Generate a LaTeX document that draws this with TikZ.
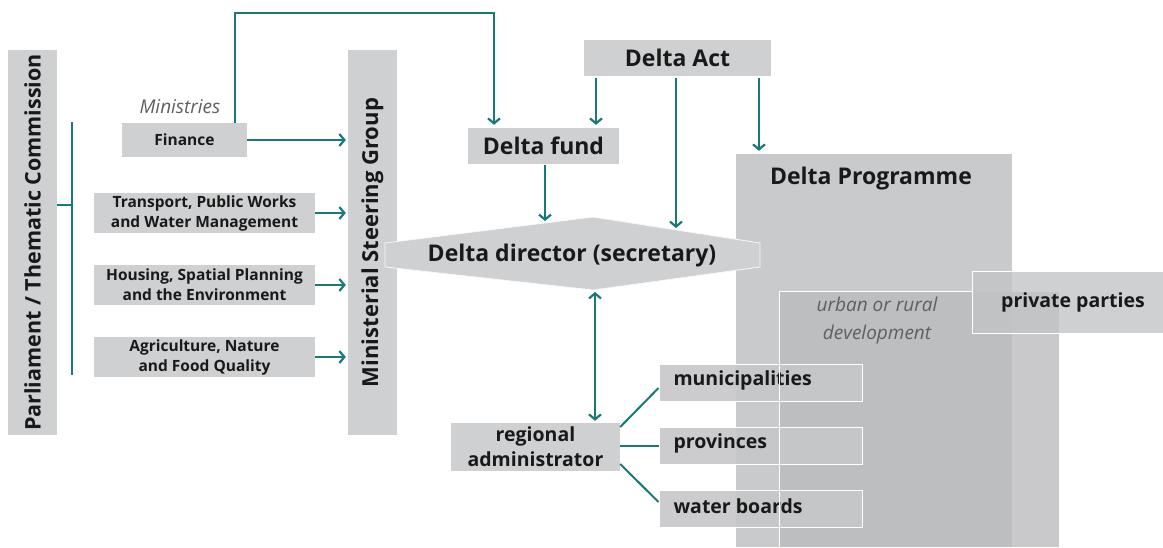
\documentclass[tikz,border=0pt]{standalone}
\usepackage{fontspec}
\setmainfont{Open Sans}
\usetikzlibrary{arrows.meta}
\definecolor{tealc}{RGB}{24,122,120}
\definecolor{boxg}{RGB}{207,208,210}
\definecolor{progg}{RGB}{201,202,204}
\definecolor{urbg}{RGB}{187,188,190}
\definecolor{privg}{RGB}{195,196,198}
\definecolor{smallg}{RGB}{198,199,201}
\definecolor{txtg}{RGB}{95,95,97}
\begin{document}
\begin{tikzpicture}[x=1pt,y=-1pt,
  box/.style={fill=boxg, inner sep=0pt, font=\bfseries\fontsize{15.5}{20}\selectfont, align=center, text=black!90},
  bigtxt/.style={font=\bfseries\fontsize{23}{27}\selectfont, text=black!90},
  midtxt/.style={font=\bfseries\fontsize{19.5}{25}\selectfont, text=black!90},
  lighttxt/.style={font=\itshape\fontsize{19}{28}\selectfont, text=txtg, align=center},
  sbox/.style={fill=smallg, fill opacity=0.9, draw=white, line width=1pt, inner sep=0pt},
  conn/.style={draw=tealc, line width=2pt},
  arr/.style={conn, -{Straight Barb[length=5pt,width=12pt,line width=2.2pt]}},
  darr/.style={conn, {Straight Barb[length=5pt,width=12pt,line width=2.2pt]}-{Straight Barb[length=5pt,width=12pt,line width=2.2pt]}}]
\useasboundingbox (0,0) rectangle (1163,547);

% right-hand layered areas
\node[fill=progg, inner sep=0pt, minimum width=276pt, minimum height=393pt] (prog) at (874,350.5) {};
\node[bigtxt] at (871,179) {Delta Programme};
\node[fill=urbg, fill opacity=0.8, inner sep=0pt, minimum width=279pt, minimum height=255pt] (urb) at (919.5,419.5) {};
\node[lighttxt] at (877,321) {urban or rural\\development};
\node[fill=privg, fill opacity=0.8, draw=white, line width=1pt, inner sep=0pt, minimum width=200pt, minimum height=62pt] (priv) at (1072,302) {};
\node[midtxt] at (1073,302) {private parties};

% left column
\node[box, minimum width=49pt, minimum height=385pt] (parl) at (32.5,242.5) {};
\node[rotate=90, font=\bfseries\fontsize{21.5}{26}\selectfont, text=black!90] at (parl.center) {Parliament / Thematic Commission};
\node[box, minimum width=49pt, minimum height=385pt] (msg) at (372.5,242.5) {};
\node[rotate=90, font=\bfseries\fontsize{22}{26}\selectfont, text=black!90] at (msg.center) {Ministerial Steering Group};

\node[lighttxt] (minis) at (180,107) {Ministries};
\node[box, minimum width=125pt, minimum height=34pt] (fin) at (184.5,140) {Finance};
\node[box, minimum width=221pt, minimum height=40pt] (trans) at (204.5,213) {Transport, Public Works\\and Water Management};
\node[box, minimum width=221pt, minimum height=40pt] (hous) at (204.5,285) {Housing, Spatial Planning\\and the Environment};
\node[box, minimum width=221pt, minimum height=40pt] (agri) at (204.5,357) {Agriculture, Nature\\and Food Quality};

% centre
\node[box, minimum width=187pt, minimum height=36pt, bigtxt] (act) at (677.5,58) {\raisebox{-2pt}{Delta Act}};
\node[box, minimum width=151pt, minimum height=36pt, bigtxt] (fund) at (543.5,146) {Delta fund};
\coordinate (hL1) at (385,243);
\coordinate (hT) at (593,217);
\coordinate (hR1) at (760,243);
\coordinate (hR2) at (760,267);
\coordinate (hB) at (593,290);
\coordinate (hL2) at (385,267);
\filldraw[fill=boxg, draw=white!85!boxg, line width=0.8pt] (hL1) -- (hT) -- (hR1) -- (hR2) -- (hB) -- (hL2) -- cycle;
\node[bigtxt] (dir) at (572,256) {Delta director (secretary)};

\node[box, minimum width=169pt, minimum height=48pt, font=\bfseries\fontsize{19.5}{25}\selectfont] (reg) at (535.5,447) {regional\\administrator};

\node[sbox, minimum width=203pt, minimum height=37pt] (mun) at (760.5,382.5) {};
\node[sbox, minimum width=203pt, minimum height=37pt] (prov) at (760.5,445.5) {};
\node[sbox, minimum width=203pt, minimum height=37pt] (wat) at (760.5,509) {};
\node[midtxt, anchor=west] at (670,380) {municipalities};
\node[midtxt, anchor=west] at (670,443) {provinces};
\node[midtxt, anchor=west] at (670,506) {water boards};
% urban border on top
\draw[white, line width=1pt] (urb.south west) -- (urb.north west) -- (priv.west |- urb.north);

% connectors
\coordinate (brT) at (72,122);
\coordinate (brB) at (72,375);
\coordinate (brM) at (72,205);
\draw[conn] (brT) -- (brB);
\draw[conn] (parl.east |- brM) -- (brM);

\draw[arr, shorten >=2pt] (fin.east) -- (msg.west |- fin.east);
\draw[arr, shorten >=2pt] (trans.east) -- (msg.west |- trans.east);
\draw[arr, shorten >=2pt] (hous.east) -- (msg.west |- hous.east);
\draw[arr, shorten >=2pt] (agri.east) -- (msg.west |- agri.east);

\coordinate (finT) at (235,123);
\coordinate (topc) at (494,13);
\draw[arr, shorten >=3pt] (finT) |- (topc) -- (topc |- fund.north);

\coordinate (a1) at (596,76);
\coordinate (a2) at (676,76);
\coordinate (a3) at (759,76);
\coordinate (dirT) at (676,229);
\coordinate (fundB) at (545,164);
\coordinate (dirT2) at (545,222);
\draw[arr, shorten <=2pt, shorten >=3pt] (a1) -- (a1 |- fund.north);
\draw[arr, shorten <=2pt, shorten >=1pt] (a2) -- (dirT);
\draw[arr, shorten <=2pt, shorten >=3pt] (a3) -- (a3 |- prog.north);
\draw[arr, shorten <=1pt, shorten >=1pt] (fundB) -- (dirT2);

\coordinate (hBot) at (595,290);
\draw[darr, shorten <=2pt, shorten >=2pt] (hBot) -- (hBot |- reg.north);

\draw[conn] (reg.east |- 0,427) -- (mun.west |- 0,388);
\draw[conn] (reg.east |- 0,446) -- (prov.west |- 0,446);
\draw[conn] (reg.east |- 0,464) -- (wat.west |- 0,502);
\end{tikzpicture}
\end{document}
